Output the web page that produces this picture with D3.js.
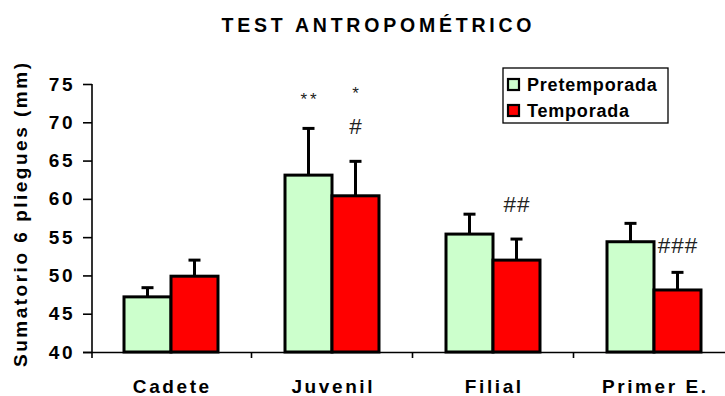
<!DOCTYPE html>
<html><head><meta charset="utf-8">
<script src="https://cdn.jsdelivr.net/npm/d3@7"></script>
<style>body{margin:0;background:#fff}svg{display:block}</style>
</head><body>
<script>
const categories = ["Cadete", "Juvenil", "Filial", "Primer E."];
const seriesNames = ["Pretemporada", "Temporada"];
const pretemporada = [47.2, 63.1, 55.4, 54.4];
const temporada = [49.9, 60.4, 52.0, 48.1];
const pretemporadaErr = [1.2, 6.1, 2.6, 2.4];
const temporadaErr = [2.1, 4.5, 2.75, 2.3];
const yTicks = [40, 45, 50, 55, 60, 65, 70, 75];
const annotations = [
  {cat: "Juvenil", series: 0, text: "**", value: 72.3},
  {cat: "Juvenil", series: 1, text: "*", value: 73.0},
  {cat: "Juvenil", series: 1, text: "#", value: 68.5},
  {cat: "Filial", series: 1, text: "##", value: 58.3},
  {cat: "Primer E.", series: 1, text: "###", value: 52.9}
];
const colors = ["#CCFFCC", "#FF0000"];

const W = 725, H = 396;
const svg = d3.select("body").append("svg").attr("width", W).attr("height", H);
const font = "'Liberation Sans', Arial, sans-serif";

const y = d3.scaleLinear().domain([40, 75]).range([352, 84]);
const x0 = d3.scaleBand().domain(categories).range([90.5, 734.5]).padding(0);
const x1 = d3.scaleBand().domain([0, 1]).range([0, x0.bandwidth()]).paddingInner(0).paddingOuter(0.713);

// title
svg.append("text").attr("x", 376.5).attr("y", 32).attr("text-anchor", "middle")
  .attr("font-family", font).attr("font-weight", "bold").attr("font-size", 19.5)
  .attr("textLength", 310).attr("lengthAdjust", "spacing")
  .text("TEST ANTROPOMÉTRICO");

// y label
svg.append("text").attr("transform", "translate(27,215) rotate(-90)")
  .attr("text-anchor", "middle").attr("font-family", font).attr("font-weight", "bold")
  .attr("font-size", 19).attr("textLength", 304).attr("lengthAdjust", "spacing")
  .text("Sumatorio 6 pliegues (mm)");

// bars
const data = [pretemporada, temporada];
const errs = [pretemporadaErr, temporadaErr];
const g = svg.append("g");
data.forEach((vals, s) => {
  categories.forEach((c, i) => {
    const bx = x0(c) + x1(s);
    g.append("rect").attr("x", bx).attr("y", y(vals[i]))
      .attr("width", x1.bandwidth()).attr("height", y(40) - y(vals[i]))
      .attr("fill", colors[s]).attr("stroke", "#000").attr("stroke-width", 3);
    const cx = bx + x1.bandwidth() / 2;
    const top = vals[i] + errs[s][i];
    g.append("line").attr("x1", cx).attr("x2", cx).attr("y1", y(vals[i])).attr("y2", y(top))
      .attr("stroke", "#000").attr("stroke-width", 3);
    g.append("line").attr("x1", cx - 6).attr("x2", cx + 6).attr("y1", y(top)).attr("y2", y(top))
      .attr("stroke", "#000").attr("stroke-width", 3);
  });
});

// annotations
annotations.forEach(a => {
  const cx = x0(a.cat) + x1(a.series) + x1.bandwidth() / 2;
  const isHash = a.text.indexOf("#") >= 0;
  const ls = isHash ? 1 : 3;
  svg.append("text").attr("x", cx + ls / 2).attr("y", y(a.value))
    .attr("text-anchor", "middle").attr("font-family", font)
    .attr("font-size", isHash ? 22.5 : 17).attr("fill", "#222")
    .attr("letter-spacing", ls)
    .text(a.text);
});

// y axis
const yAxis = svg.append("g").attr("transform", "translate(92,0)")
  .call(d3.axisLeft(y).tickValues(yTicks).tickSize(9).tickPadding(8));
yAxis.selectAll("text").attr("font-family", font).attr("font-weight", "bold")
  .attr("font-size", 19).attr("letter-spacing", 2.5).attr("fill", "#000");
yAxis.select(".domain").attr("stroke-width", 1.6).attr("d", "M0,84V358");
yAxis.selectAll(".tick line").attr("stroke-width", 1.6);

// x axis
const xg = svg.append("g");
xg.append("line").attr("x1", 83).attr("x2", 725).attr("y1", 352.5).attr("y2", 352.5)
  .attr("stroke", "#000").attr("stroke-width", 1.6);
categories.forEach((c, i) => {
  if (i > 0) {
    xg.append("line").attr("x1", x0(c)).attr("x2", x0(c)).attr("y1", 352).attr("y2", 358)
      .attr("stroke", "#000").attr("stroke-width", 1.6);
  }
  xg.append("text").attr("x", x0(c) + x0.bandwidth() / 2 + 1.3).attr("y", 393)
    .attr("text-anchor", "middle").attr("font-family", font).attr("font-weight", "bold")
    .attr("font-size", 19).attr("letter-spacing", 2.6).text(c);
});

// legend
const lg = svg.append("g");
lg.append("rect").attr("x", 503).attr("y", 68).attr("width", 165).attr("height", 55)
  .attr("fill", "#fff").attr("stroke", "#000").attr("stroke-width", 1.3);
seriesNames.forEach((n, i) => {
  const lb = 91 + i * 26;
  lg.append("rect").attr("x", 508).attr("y", lb - 12).attr("width", 11).attr("height", 11)
    .attr("fill", colors[i]).attr("stroke", "#000").attr("stroke-width", 2.2);
  lg.append("text").attr("x", 527).attr("y", lb).attr("font-family", font)
    .attr("font-weight", "bold").attr("font-size", 18).attr("letter-spacing", 0.8).text(n);
});
</script>
</body></html>
